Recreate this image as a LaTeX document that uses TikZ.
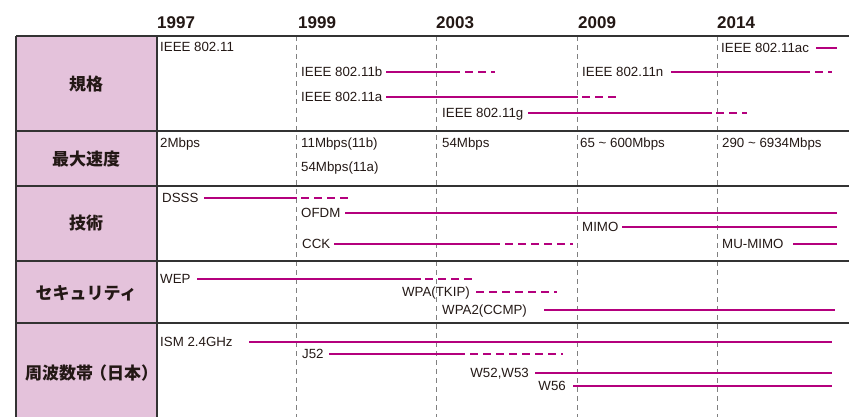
\documentclass[tikz,border=0pt]{standalone}
\usepackage{fontspec}
\setmainfont{Liberation Sans}
\newfontfamily\jp{Noto Sans CJK JP}
\definecolor{mag}{HTML}{B4007D}
\definecolor{pinkfill}{HTML}{E4C2DB}
\definecolor{rulec}{HTML}{333333}
\definecolor{txtc}{HTML}{231815}
\begin{document}
\begin{tikzpicture}[x=1pt,y=-1pt,
  txt/.style={anchor=west,inner sep=0pt,text height=9.5pt,text depth=0pt,font=\fontsize{13.3}{15}\selectfont,text=txtc},
  txtr/.style={txt,anchor=east},
  yr/.style={anchor=west,inner sep=0pt,text height=12.5pt,text depth=0pt,font=\bfseries\fontsize{17}{19}\selectfont,text=txtc},
  cat/.style={inner sep=0pt,font=\jp\bfseries\fontsize{17}{19}\selectfont,text=txtc},
  sl/.style={draw=mag,line width=2.6pt},
  dl/.style={draw=mag,line width=2.6pt,dash pattern=on 8pt off 5pt},
  vl/.style={draw=gray,line width=1pt,dash pattern=on 5pt off 4pt},
  rulel/.style={draw=rulec,line width=1.3pt}]
\useasboundingbox (0,0) rectangle (849,417);
% label column
\fill[pinkfill] (16,36) rectangle (157,417);
% year dashed verticals
\foreach \x in {296,436,577,717} \draw[vl] (\x,36) -- (\x,417);
% rules
\foreach \y in {36,131,186,261,323} \draw[rulel] (16,\y) -- (849,\y);
\draw[rulel] (16,36) -- (16,417);
\draw[rulel] (157,36) -- (157,417);
% years
\node[yr] (y1997) at (157,22) {1997};
\node[yr] (y1999) at (298,22) {1999};
\node[yr] (y2003) at (436,22) {2003};
\node[yr] (y2009) at (578,22) {2009};
\node[yr] (y2014) at (717,22) {2014};
% categories
\node[cat] (c1) at (86,84) {規格};
\node[cat] (c2) at (86,159) {最大速度};
\node[cat] (c3) at (86,223) {技術};
\node[cat] (c4) at (86,293) {セキュリティ};
\node[cat] (c5) at (88,373) {周波数帯\kern-3pt（日本）\kern-7pt};
% row 1
\node[txt] (s11) at (160,47) {IEEE 802.11};
\node[txt] (s11ac) at (721,48) {IEEE 802.11ac};
\node[txt] (s11b) at (301,72) {IEEE 802.11b};
\node[txt] (s11n) at (582,72) {IEEE 802.11n};
\node[txt] (s11a) at (301,97) {IEEE 802.11a};
\node[txt] (s11g) at (442,113) {IEEE 802.11g};
\draw[sl] (816,48) -- (837,48);
\draw[sl] (386,72) -- (460,72); \draw[dl] (465,72) -- (495,72);
\draw[sl] (671,72) -- (810,72); \draw[dl] (815,72) -- (832,72);
\draw[sl] (386,97) -- (578,97); \draw[dl] (582,97) -- (618,97);
\draw[sl] (528,113) -- (712,113); \draw[dl] (716,113) -- (747,113);
% row 2
\node[txt] (r2a) at (160,143) {2Mbps};
\node[txt] (r2b) at (301,143) {11Mbps(11b)};
\node[txt] (r2c) at (301,167) {54Mbps(11a)};
\node[txt] (r2d) at (442,143) {54Mbps};
\node[txt] (r2e) at (580,143) {65 \textasciitilde{} 600Mbps};
\node[txt] (r2f) at (722,143) {290 \textasciitilde{} 6934Mbps};
% row 3
\node[txt] (dsss) at (162,198) {DSSS};
\node[txt] (ofdm) at (301,213) {OFDM};
\node[txt] (mimo) at (582,227) {MIMO};
\node[txt] (cck) at (302,244) {CCK};
\node[txt] (mumimo) at (722,244) {MU-MIMO};
\draw[sl] (204,198) -- (297,198); \draw[dl] (301,198) -- (350,198);
\draw[sl] (345,213) -- (837,213);
\draw[sl] (622,227) -- (837,227);
\draw[sl] (334,244) -- (500,244); \draw[dl] (505,244) -- (573,244);
\draw[sl] (793,244) -- (837,244);
% row 4
\node[txt] (wep) at (160,279) {WEP};
\node[txtr] (wpa) at (470,292) {WPA(TKIP)};
\node[txt] (wpa2) at (442,310) {WPA2(CCMP)};
\draw[sl] (197,279) -- (421,279); \draw[dl] (425,279) -- (473,279);
\draw[dl] (476,292) -- (557,292);
\draw[sl] (544,310) -- (835,310);
% row 5
\node[txt] (ism) at (160,342) {ISM 2.4GHz};
\node[txt] (j52) at (302,354) {J52};
\node[txtr] (w5253) at (529,373) {W52,W53};
\node[txtr] (w56) at (566,386) {W56};
\draw[sl] (249,342) -- (832,342);
\draw[sl] (329,354) -- (465,354); \draw[dl] (470,354) -- (563,354);
\draw[sl] (535,373) -- (832,373);
\draw[sl] (573,386) -- (832,386);
\end{tikzpicture}
\end{document}
